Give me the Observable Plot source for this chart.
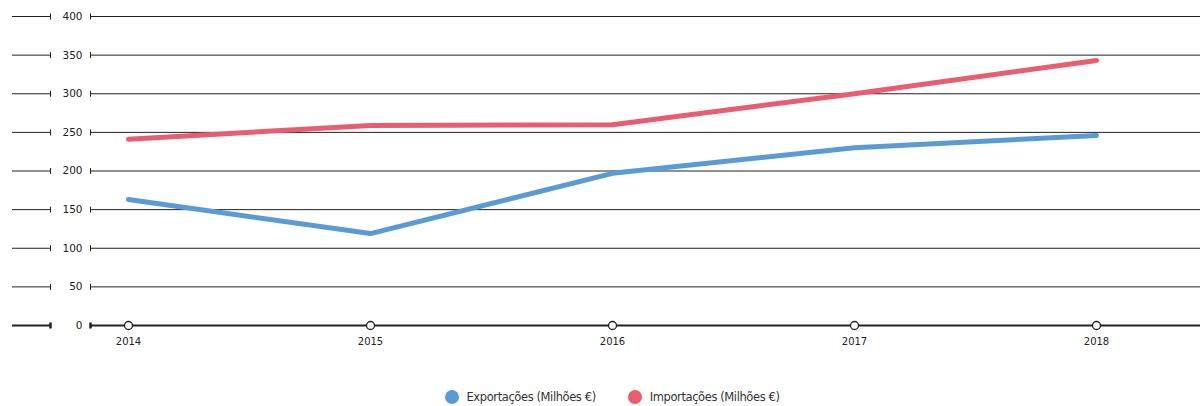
<!DOCTYPE html>
<html>
<head>
<meta charset="utf-8">
<script src="https://cdn.jsdelivr.net/npm/d3@7"></script>
<script src="https://cdn.jsdelivr.net/npm/@observablehq/plot@0.6"></script>
<style>
  html, body { margin: 0; padding: 0; background: #fff; }
  body { width: 1200px; height: 406px; overflow: hidden; font-family: "DejaVu Sans", sans-serif; }
  #legend { display: flex; justify-content: center; align-items: center; height: 26px; padding-top: 4px; padding-left: 24px; font-size: 11.5px; color: #333; letter-spacing: -0.4px; }
  .item { display: flex; align-items: center; margin: 0 16px; }
  .sw { width: 14px; height: 14px; border-radius: 50%; margin-right: 8px; display: inline-block; }
</style>
</head>
<body>
<div id="chart"></div>
<div id="legend"></div>
<script>
const years = [2014, 2015, 2016, 2017, 2018];
const exportacoes = [163, 119, 197, 230, 246];
const importacoes = [241, 259, 260, 300, 343];
const seriesNames = ["Exportações (Milhões €)", "Importações (Milhões €)"];
const seriesColors = ["#5b9bd5", "#e85d6f"];
const yTicks = [0, 50, 100, 150, 200, 250, 300, 350, 400];

const rows = [];
years.forEach((y, i) => {
  rows.push({year: y, value: exportacoes[i], series: seriesNames[0]});
  rows.push({year: y, value: importacoes[i], series: seriesNames[1]});
});

const tickShape = (h) => ({
  draw(ctx) { ctx.moveTo(0, -h); ctx.lineTo(0, h); }
});

const chart = Plot.plot({
  width: 1200,
  height: 380,
  marginLeft: 0,
  marginRight: 0,
  marginTop: 16,
  marginBottom: 55,
  style: {fontFamily: "'DejaVu Sans', sans-serif", fontSize: "10px", color: "#222"},
  x: {domain: [2014, 2018], range: [128, 1096], axis: null},
  y: {domain: [0, 400], axis: null},
  color: {domain: seriesNames, range: seriesColors},
  marks: [
    Plot.ruleY(yTicks, {y: d => d, insetLeft: 12, insetRight: 1150, stroke: "#222", strokeWidth: d => d === 0 ? 2 : 1}),
    Plot.ruleY(yTicks, {y: d => d, insetLeft: 90, stroke: "#222", strokeWidth: d => d === 0 ? 2 : 1}),
    Plot.dot(yTicks, {y: d => d, frameAnchor: "left", dx: 50, symbol: tickShape(3), stroke: "#222", strokeWidth: d => d === 0 ? 2.5 : 1, r: 3}),
    Plot.dot(yTicks, {y: d => d, frameAnchor: "left", dx: 90, symbol: tickShape(3), stroke: "#222", strokeWidth: d => d === 0 ? 2.5 : 1, r: 3}),
    Plot.text(yTicks, {y: d => d, text: d => String(d), frameAnchor: "left", dx: 82, textAnchor: "end", fill: "#222", fontSize: 10.5}),
    Plot.line(rows, {x: "year", y: "value", z: "series", stroke: "series", strokeWidth: 5, strokeLinecap: "round", strokeLinejoin: "round"}),
    Plot.dot(years, {x: d => d, y: () => 0, r: 4, fill: "white", stroke: "#222", strokeWidth: 1.3}),
    Plot.text(years, {x: d => d, text: d => String(d), frameAnchor: "bottom", dy: 19, fill: "#222", fontSize: 10})
  ]
});
document.getElementById("chart").appendChild(chart);

const legend = document.getElementById("legend");
seriesNames.forEach((name, i) => {
  const item = document.createElement("div");
  item.className = "item";
  const sw = document.createElement("span");
  sw.className = "sw";
  sw.style.background = seriesColors[i];
  const t = document.createElement("span");
  t.textContent = name;
  item.appendChild(sw);
  item.appendChild(t);
  legend.appendChild(item);
});
</script>
</body>
</html>
